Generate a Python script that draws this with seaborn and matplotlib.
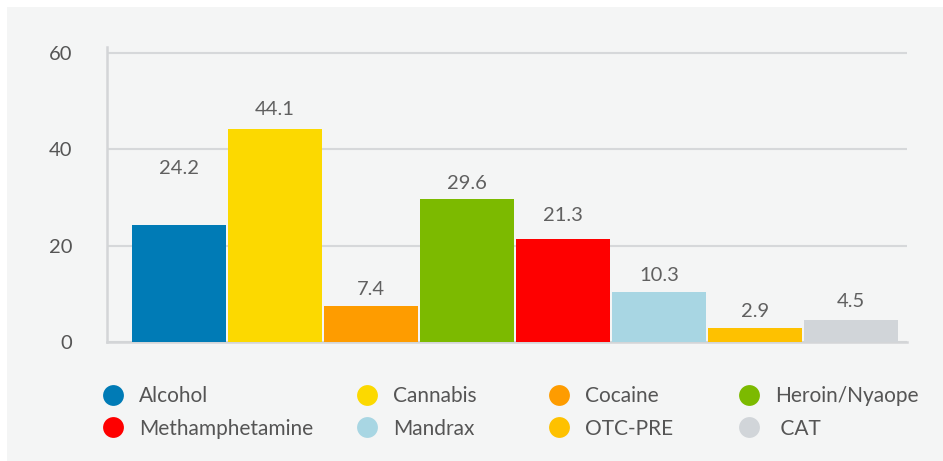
import matplotlib
matplotlib.use("Agg")
import matplotlib.pyplot as plt
import seaborn as sns
import pandas as pd
from matplotlib.lines import Line2D
from matplotlib.patches import Rectangle

drugs = ['Alcohol', 'Cannabis', 'Cocaine', 'Heroin/Nyaope',
         'Methamphetamine', 'Mandrax', 'OTC-PRE', 'CAT']
values = [24.2, 44.1, 7.4, 29.6, 21.3, 10.3, 2.9, 4.5]
colors = ['#007bb6', '#fcd900', '#fe9c00', '#7cba00',
          '#fe0000', '#a8d6e3', '#fec100', '#d1d5d9']
# gap (px) between bar top and its label, as in the original
label_gap = [48, 11, 8, 7, 15, 8, 8, 10]

df = pd.DataFrame({'drug': drugs, 'value': values})
palette = dict(zip(drugs, colors))

sns.set_theme(style='white')
plt.rcParams['font.family'] = ['Lato', 'DejaVu Sans']

W, H = 943, 461
fig = plt.figure(figsize=(W / 100, H / 100), dpi=100)
fig.patch.set_facecolor('white')
fig.add_artist(Rectangle((7 / W, 0), 1, 1 - 7 / H, transform=fig.transFigure,
                         facecolor='#f4f5f5', edgecolor='none', zorder=-10))

ax = fig.add_axes([107 / W, 1 - 342 / H, 800 / W, 295 / H])
ax.patch.set_alpha(0)

sns.barplot(data=df, x='drug', y='value', hue='drug', palette=palette,
            saturation=1, width=0.98, linewidth=0, legend=False, ax=ax, zorder=3)

ax.set_xlim(-0.75, 7.585)
ax.set_ylim(0, 61.2)
ax.set_yticks([0, 20, 40, 60])
ax.set_xticks([])
ax.set_xlabel('')
ax.set_ylabel('')
ax.yaxis.grid(True, color='#d6d8da', linewidth=1.5, zorder=0)
ax.set_axisbelow(True)
ax.tick_params(axis='y', length=0, pad=25, labelsize=14.5, labelcolor='#555555')
for s in ['top', 'right']:
    ax.spines[s].set_visible(False)
for s in ['left', 'bottom']:
    ax.spines[s].set_color('#d3d5d7')
    ax.spines[s].set_linewidth(1.8)

for i, (v, g) in enumerate(zip(values, label_gap)):
    ax.annotate(f'{v}', (i, v), xytext=(0, g * 0.72), textcoords='offset points',
                ha='center', va='bottom', fontsize=14.5, color='#606060')

# legend: 4 columns, 2 rows, row-wise order
col_x = [103, 357, 549, 739]
for c in range(4):
    handles = []
    for r in range(2):
        k = r * 4 + c
        handles.append(Line2D([], [], linestyle='none', marker='o', markersize=15,
                              markerfacecolor=colors[k], markeredgecolor='none',
                              label=drugs[k] if drugs[k] != 'CAT' else ' CAT'))
    fig.legend(handles=handles, loc='upper left',
               bbox_to_anchor=(col_x[c] / W, 1 - 386 / H),
               frameon=False, fontsize=15, labelcolor='#555555',
               handlelength=1.0, handletextpad=0.72, labelspacing=0.6,
               borderpad=0, borderaxespad=0)

fig.savefig('out.png', dpi=100)
